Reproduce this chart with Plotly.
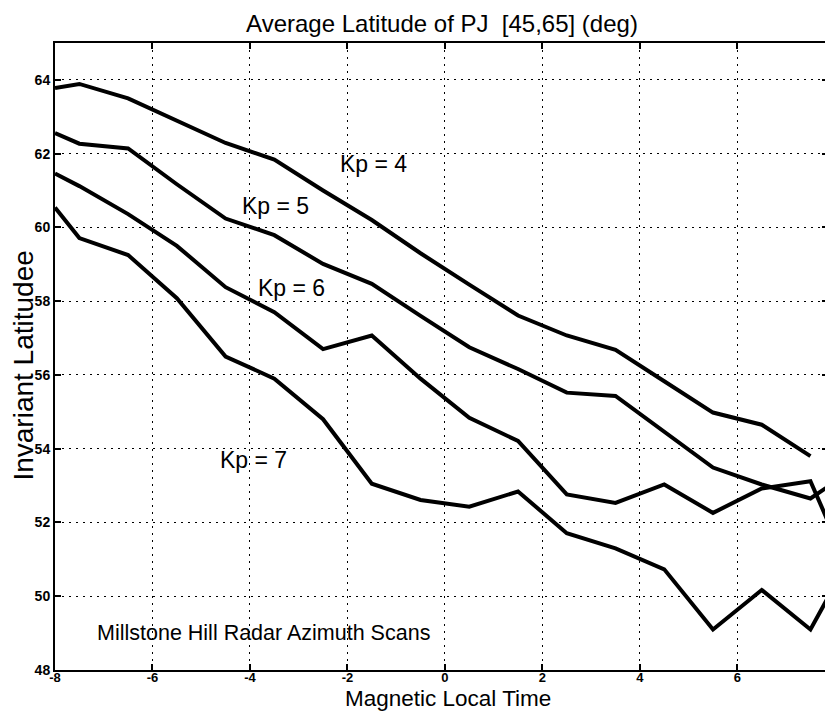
import plotly.graph_objects as go

# MLT bins (hours)
mlt = [-8, -7.5, -6.5, -5.5, -4.5, -3.5, -2.5, -1.5, -0.5, 0.5, 1.5, 2.5, 3.5, 4.5, 5.5, 6.5, 7.5, 8]

kp4 = [63.78, 63.89, 63.5, 62.9, 62.29, 61.84, 61.0, 60.2, 59.3, 58.45, 57.61, 57.07, 56.68, 55.83, 54.98, 54.65, 53.8, None]
kp5 = [62.56, 62.27, 62.14, 61.17, 60.24, 59.79, 59.01, 58.47, 57.6, 56.75, 56.16, 55.52, 55.43, 54.47, 53.49, 53.03, 52.65, 53.1]
kp6 = [61.46, 61.12, 60.36, 59.5, 58.38, 57.7, 56.7, 57.07, 55.9, 54.84, 54.21, 52.76, 52.53, 53.03, 52.26, 52.92, 53.12, 51.6]
kp7 = [60.54, 59.71, 59.25, 58.08, 56.5, 55.9, 54.8, 53.05, 52.61, 52.43, 52.84, 51.71, 51.3, 50.73, 49.1, 50.17, 49.1, 50.3]

series = [("Kp = 4", kp4), ("Kp = 5", kp5), ("Kp = 6", kp6), ("Kp = 7", kp7)]

# label positions (data coords)
label_x = [-1.46, -3.47, -3.14, -3.93]
label_y = [61.72, 60.58, 58.36, 53.69]

x_ticks = [-8, -6, -4, -2, 0, 2, 4, 6]
y_ticks = [48, 50, 52, 54, 56, 58, 60, 62, 64]

FONT = "Liberation Sans, Arial, Helvetica, sans-serif"

W, H = 825, 704
L, R, T, B = 47, 3, 35, 42

fig = go.Figure()
for name, ys in series:
    fig.add_trace(go.Scatter(x=mlt, y=ys, mode="lines", name=name,
                             line=dict(color="black", width=4),
                             connectgaps=False, showlegend=False))

for (name, _), lx, ly in zip(series, label_x, label_y):
    fig.add_annotation(x=lx, y=ly, text=name, showarrow=False,
                       font=dict(family=FONT, size=23, color="black"),
                       xanchor="center", yanchor="middle")

fig.add_annotation(x=-3.73, y=49.0, text="Millstone Hill Radar Azimuth Scans",
                   showarrow=False, font=dict(family=FONT, size=21.5, color="black"),
                   xanchor="center", yanchor="middle")

# axis titles as paper annotations
fig.add_annotation(xref="paper", yref="paper", x=0.5084, y=-0.04625,
                   text="Magnetic Local Time", showarrow=False,
                   font=dict(family=FONT, size=22.5, color="black"),
                   xanchor="center", yanchor="middle")
fig.add_annotation(xref="paper", yref="paper", x=-0.041, y=0.486,
                   text="Invariant Latitudee", showarrow=False, textangle=-90,
                   font=dict(family=FONT, size=28, color="black"),
                   xanchor="center", yanchor="middle")

axis_common = dict(
    showline=True, linecolor="black", linewidth=2, mirror="ticks",
    ticks="inside", ticklen=6, tickwidth=1.5, tickcolor="black",
    showgrid=True, gridcolor="black", gridwidth=1.2, griddash="2px,5px",
    zeroline=False,
)

fig.update_xaxes(range=[-8, 7.86], tickmode="array", tickvals=x_ticks,
                 ticktext=[str(v) for v in x_ticks], ticklabelstandoff=-6,
                 tickfont=dict(family=FONT, size=13, color="black", weight="bold"),
                 **axis_common)
fig.update_yaxes(range=[48, 65], tickmode="array", tickvals=y_ticks,
                 ticktext=[str(v) for v in y_ticks],
                 tickfont=dict(family=FONT, size=14, color="black", weight="bold"),
                 **axis_common)

fig.update_layout(
    width=W, height=H,
    margin=dict(l=L, r=R, t=T, b=B),
    paper_bgcolor="white", plot_bgcolor="white",
    title=dict(text="Average Latitude of PJ  [45,65] (deg)",
               x=434 / W, xanchor="center", y=1 - 16 / H, yanchor="middle",
               font=dict(family=FONT, size=24, color="black")),
)

fig.write_html("out.html")
